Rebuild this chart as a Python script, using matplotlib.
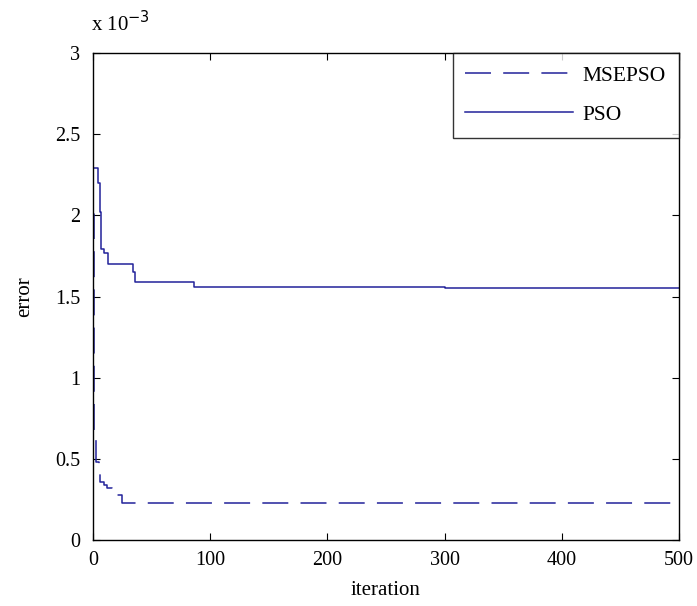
import matplotlib
matplotlib.use("Agg")
import matplotlib.pyplot as plt

# data (error in units of 1e-3)
mse_iter = [0, 1, 3, 5, 6, 9, 12, 16, 19, 25, 500]
mse_err = [2.01, 0.64, 0.48, 0.41, 0.36, 0.34, 0.32, 0.30, 0.28, 0.23, 0.23]
pso_iter = [0, 4, 6, 7, 9, 13, 34, 36, 86, 300, 500]
pso_err = [2.29, 2.20, 2.02, 1.79, 1.77, 1.70, 1.65, 1.59, 1.56, 1.55, 1.55]
xticks = [0, 100, 200, 300, 400, 500]
yticks = [0, 0.5, 1, 1.5, 2, 2.5, 3]

plt.rcParams['font.family'] = ['Liberation Serif', 'DejaVu Serif']
color = '#22229a'

fig = plt.figure(figsize=(6.97, 6.06), dpi=100)
ax = fig.add_axes([0.1334, 0.1089, 0.8407, 0.8036])

ax.plot(mse_iter, mse_err, drawstyle='steps-post', color=color, lw=1.1,
        dashes=(17, 8), label='MSEPSO')
ax.plot(pso_iter, pso_err, drawstyle='steps-post', color=color, lw=1.1,
        label='PSO')

ax.set_xlim(0, 500)
ax.set_ylim(0, 3)
ax.set_xticks(xticks)
ax.set_yticks(yticks)
ax.set_xticklabels([str(v) for v in xticks])
ax.set_yticklabels(['0', '0.5', '1', '1.5', '2', '2.5', '3'])
ax.tick_params(direction='in', top=True, right=True, length=5, labelsize=14.5)
ax.tick_params(axis='y', pad=9)
ax.tick_params(axis='x', pad=8)
for s in ax.spines.values():
    s.set_linewidth(1.0)

ax.set_xlabel('iteration', fontsize=15, labelpad=8)
ax.set_ylabel('error', fontsize=15, labelpad=15)
ax.text(-0.003, 1.035, r'x 10$^{-3}$', transform=ax.transAxes, fontsize=15,
        ha='left', va='bottom')

leg = ax.legend(loc='upper right', fontsize=15.5, frameon=True, fancybox=False,
                handlelength=5.0, borderaxespad=0, borderpad=0.6,
                labelspacing=0.86, handletextpad=0.45)
leg.get_frame().set_edgecolor('black')
leg.get_frame().set_linewidth(1.0)

fig.savefig('out.png', dpi=100, facecolor='white')
